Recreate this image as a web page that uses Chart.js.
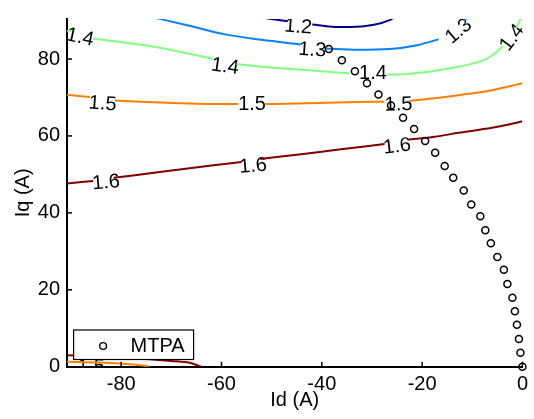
<!DOCTYPE html>
<html>
<head>
<meta charset="utf-8">
<script src="https://cdn.jsdelivr.net/npm/chart.js@4.4.1/dist/chart.umd.min.js"></script>
<style>
  html, body { margin: 0; padding: 0; background: #fff; }
  #wrap { width: 534px; height: 419px; position: relative; }
</style>
</head>
<body>
<div id="wrap"><canvas id="c"></canvas></div>
<script>
// ---- data ----
const idTicks = [-80, -60, -40, -20, 0];
const iqTicks = [0, 20, 40, 60, 80];

const levels = ['1.2', '1.3', '1.4', '1.5', '1.6'];

// contour polylines [Id, Iq]; null = gap (label position or break)
const contour12 = [[-51.1,90.6],[-46.8,89.8],null,[-41.9,89.0],[-38.0,88.4],[-34.4,88.3],[-29.6,88.9],[-26.5,90.1],[-25.6,90.8]];
const contour13 = [[-73.5,90.8],[-66.0,88.5],[-59.3,86.4],[-52.0,85.0],[-44.2,83.8],null,[-39.3,82.7],[-33.0,82.4],[-26.5,82.6],[-21.0,83.6],[-16.7,85.1],null,[-11.7,90.0],[-10.4,91.3]];
const contour14 = [[-90.8,87.2],[-90.0,87.4],null,[-85.6,85.3],[-79.0,84.2],[-72.6,83.0],[-67.0,81.5],[-61.6,80.0],null,[-57.0,78.7],[-52.0,78.0],[-46.2,77.4],[-40.0,76.8],[-34.4,76.2],null,[-27.1,75.9],[-23.0,76.1],[-19.2,76.6],[-14.5,77.6],[-10.6,78.6],[-6.9,80.2],[-3.8,83.4],null,[-1.3,87.9],[-0.3,90.6]];
const contour15 = [[-90.8,70.7],[-86.2,70.1],null,[-81.3,69.2],[-75.0,68.8],[-68.0,68.5],[-62.0,68.3],[-56.7,68.3],null,[-51.4,68.3],[-45.0,68.4],[-39.0,68.6],[-33.0,68.8],[-27.5,68.9],null,[-22.6,69.1],[-17.5,69.8],[-12.7,70.6],[-6.1,71.9],[-3.0,72.8],[0,73.7],
                   null,[-90.8,1.3],[-85.0,1.1],[-80.0,0.8],[-77.0,0.5],[-74.3,0]];
const contour16 = [[-90.8,47.6],[-85.6,48.3],null,[-81.5,49.1],[-70.0,51.0],[-62.0,52.3],[-56.1,53.2],null,[-52.3,54.0],[-45.0,55.1],[-37.0,56.4],[-27.5,57.9],null,[-22.9,59.0],[-17.5,59.8],[-12.7,60.8],[-6.1,62.1],[-3.0,62.9],[0,63.8],
                   null,[-90.8,3.0],[-85.0,2.7],[-78.0,2.2],[-70.0,1.5],[-66.0,0.9],[-64.1,0]];

// contour labels
const labelText  = ['1.2','1.3','1.3','1.4','1.4','1.4','1.4','1.5','1.5','1.5','1.6','1.6','1.6','1.5'];
const labelId    = [-44.7,-41.9,-12.7,-88.2,-59.3,-29.8,-2.0,-83.7,-53.9,-24.7,-83.0,-53.7,-25.0,-86.0];
const labelIq    = [88.3, 82.3, 87.2, 85.6, 78.0, 76.2, 85.5, 68.3, 68.3, 68.1, 47.8, 52.1, 57.2, -0.3];
const labelAngle = [4, 4, -40, 12, 8, 0, -53, 4, 0, -2, -5, -5, -7, 0];

// MTPA trajectory
const mtpaId = [-38.6,-36.0,-33.4,-31.0,-28.7,-26.2,-23.8,-21.6,-19.4,-17.4,-15.5,-13.8,-11.7,-10.2,-8.4,-7.4,-6.3,-5.0,-3.7,-3.0,-2.0,-1.5,-1.1,-0.7,-0.4,0];
const mtpaIq = [82.6,79.7,76.8,73.7,70.8,67.9,64.7,61.8,58.7,55.6,52.2,49.1,45.8,42.2,39.1,35.5,32.1,28.5,25.2,21.5,17.9,14.4,10.9,7.2,3.6,0];

// ---- build ----
const FONT = "'Liberation Sans', Arial, Helvetica, sans-serif";
const jet = ['#000090', '#0a80ff', '#80ff80', '#ff8000', '#800000'];
const contours = [contour12, contour13, contour14, contour15, contour16];

function toPoints(arr) {
  const out = [];
  let lastX = 0;
  arr.forEach(p => {
    if (p === null) out.push({x: lastX, y: null});
    else { out.push({x: p[0], y: p[1]}); lastX = p[0]; }
  });
  return out;
}

const datasets = contours.map((c, i) => ({
  type: 'line',
  label: levels[i],
  data: toPoints(c),
  borderColor: jet[i],
  backgroundColor: jet[i],
  borderWidth: 2,
  pointRadius: 0,
  spanGaps: false,
  cubicInterpolationMode: 'monotone',
  clip: 0,
  order: 2
}));
datasets.push({
  type: 'scatter',
  label: 'MTPA',
  data: mtpaId.map((v, i) => ({x: v, y: mtpaIq[i]})),
  showLine: false,
  pointStyle: 'circle',
  pointRadius: 3.5,
  pointBorderWidth: 1.5,
  borderColor: '#000',
  backgroundColor: 'rgba(0,0,0,0)',
  clip: false,
  order: 1
});

const contourLabels = {
  id: 'contourLabels',
  beforeDatasetsDraw(chart) {
    const {ctx, chartArea, scales} = chart;
    ctx.save();
    ctx.beginPath();
    ctx.rect(chartArea.left, chartArea.top, chartArea.right - chartArea.left, chartArea.bottom - chartArea.top);
    ctx.clip();
    ctx.fillStyle = '#000';
    ctx.font = '20px ' + FONT;
    ctx.textAlign = 'center';
    ctx.textBaseline = 'middle';
    labelText.forEach((t, i) => {
      const px = scales.x.getPixelForValue(labelId[i]);
      const py = scales.y.getPixelForValue(labelIq[i]);
      ctx.save();
      ctx.translate(px, py);
      ctx.rotate(labelAngle[i] * Math.PI / 180);
      ctx.fillText(t, 0, 0);
      ctx.restore();
    });
    ctx.restore();
  }
};

const axesDecor = {
  id: 'axesDecor',
  afterDraw(chart) {
    const {ctx, chartArea, scales} = chart;
    ctx.save();
    ctx.strokeStyle = '#000';
    ctx.lineWidth = 1.5;
    idTicks.forEach(v => {
      const px = scales.x.getPixelForValue(v);
      ctx.beginPath();
      ctx.moveTo(px, chartArea.bottom);
      ctx.lineTo(px, chartArea.bottom - 5);
      ctx.stroke();
    });
    iqTicks.forEach(v => {
      const py = scales.y.getPixelForValue(v);
      ctx.beginPath();
      ctx.moveTo(chartArea.left, py);
      ctx.lineTo(chartArea.left + 5, py);
      ctx.stroke();
    });
    // legend box inside the axes (bottom-left)
    const lx = chartArea.left + 6.6, ly = chartArea.bottom - 36.7, lw = 120, lh = 29.5;
    ctx.fillStyle = '#fff';
    ctx.fillRect(lx, ly, lw, lh);
    ctx.lineWidth = 1.2;
    ctx.strokeRect(lx, ly, lw, lh);
    ctx.beginPath();
    ctx.lineWidth = 1.4;
    ctx.arc(lx + 29.5, ly + 16, 3.4, 0, Math.PI * 2);
    ctx.stroke();
    ctx.fillStyle = '#000';
    ctx.font = '20px ' + FONT;
    ctx.textAlign = 'left';
    ctx.textBaseline = 'middle';
    ctx.fillText('MTPA', lx + 57, ly + 16);
    ctx.restore();
  }
};

new Chart(document.getElementById('c'), {
  type: 'scatter',
  data: { datasets },
  options: {
    responsive: true,
    maintainAspectRatio: false,
    animation: false,
    events: [],
    layout: { padding: { top: 12, right: 6, left: 0, bottom: 0 } },
    plugins: { legend: { display: false }, tooltip: { enabled: false } },
    scales: {
      x: {
        type: 'linear',
        min: -90.8,
        max: 0,
        afterFit(s) { s.height = 52.3; },
        afterBuildTicks(s) { s.ticks = idTicks.map(v => ({value: v})); },
        ticks: { font: { size: 20, family: FONT }, color: '#000', padding: 6, maxRotation: 0 },
        grid: { display: false, drawTicks: false },
        border: { display: true, color: '#000', width: 2 },
        title: { display: true, text: 'Id (A)', color: '#000', font: { size: 20, family: FONT }, padding: { top: 0, bottom: 7 } }
      },
      y: {
        type: 'linear',
        min: 0,
        max: 90.4,
        afterFit(s) { s.width = 67; },
        afterBuildTicks(s) { s.ticks = iqTicks.map(v => ({value: v})); },
        ticks: { font: { size: 20, family: FONT }, color: '#000', padding: 7 },
        grid: { display: false, drawTicks: false },
        border: { display: true, color: '#000', width: 2 },
        title: { display: true, text: 'Iq (A)', color: '#000', font: { size: 20, family: FONT }, padding: { top: 11, bottom: 0 } }
      }
    }
  },
  plugins: [contourLabels, axesDecor]
});
</script>
</body>
</html>
